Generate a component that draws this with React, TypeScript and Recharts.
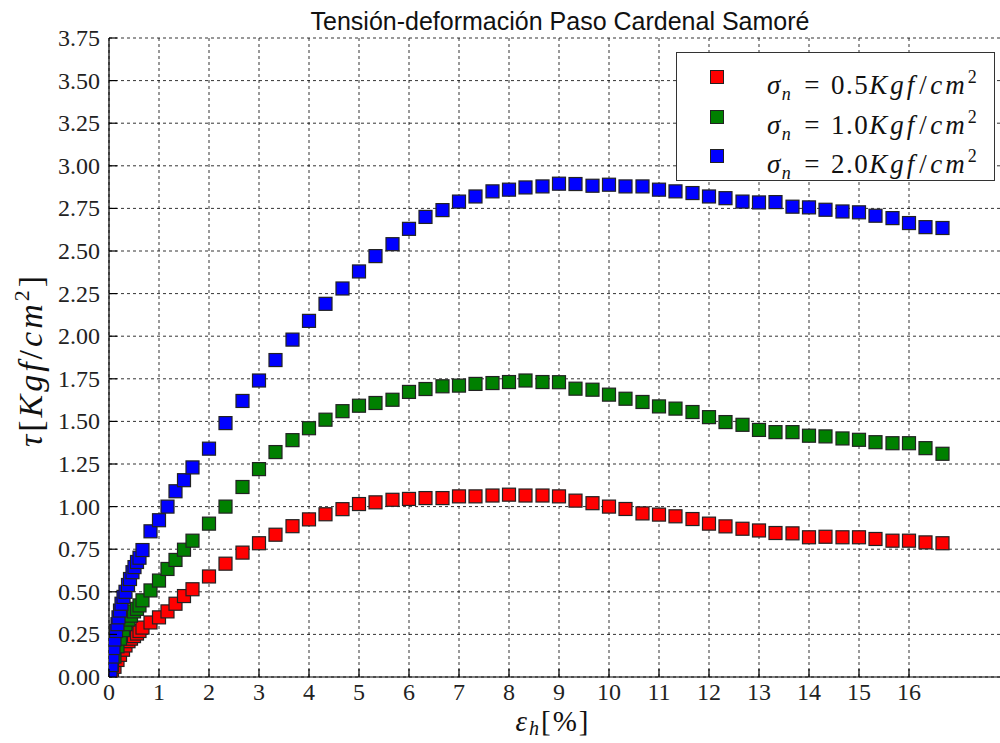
import { ScatterChart, Scatter, XAxis, YAxis, CartesianGrid, Legend } from "recharts";

// tick values
const xTicks = [0, 1, 2, 3, 4, 5, 6, 7, 8, 9, 10, 11, 12, 13, 14, 15, 16];
const yTicks = [0, 0.25, 0.5, 0.75, 1, 1.25, 1.5, 1.75, 2, 2.25, 2.5, 2.75, 3, 3.25, 3.5, 3.75];

// late part of the test: same strain steps for all three series
const strainTail = [
  5.0, 5.33, 5.67, 6.0, 6.33, 6.67, 7.0, 7.33, 7.67, 8.0, 8.33, 8.67, 9.0, 9.33, 9.67, 10.0,
  10.33, 10.67, 11.0, 11.33, 11.67, 12.0, 12.33, 12.67, 13.0, 13.33, 13.67, 14.0, 14.33,
  14.67, 15.0, 15.33, 15.67, 16.0, 16.33, 16.67,
];

// sigma_n = 0.5
const strain05 = [
  0.06, 0.11, 0.17, 0.22, 0.28, 0.33, 0.39, 0.44, 0.5, 0.56, 0.61, 0.67, 0.83, 1.0, 1.17, 1.33,
  1.5, 1.67, 2.0, 2.33, 2.67, 3.0, 3.33, 3.67, 4.0, 4.33, 4.67, ...strainTail,
];
const stress05 = [
  0.03, 0.06, 0.1, 0.13, 0.16, 0.185, 0.21, 0.225, 0.24, 0.255, 0.27, 0.29, 0.32, 0.35, 0.385,
  0.43, 0.475, 0.515, 0.59, 0.665, 0.73, 0.785, 0.835, 0.885, 0.925, 0.955, 0.985,
  1.015, 1.025, 1.04, 1.045, 1.05, 1.05, 1.06, 1.06, 1.065, 1.07, 1.065, 1.065, 1.06, 1.035,
  1.02, 1.0, 0.986, 0.96, 0.953, 0.943, 0.927, 0.9, 0.884, 0.87, 0.86, 0.845, 0.843, 0.82,
  0.823, 0.82, 0.82, 0.81, 0.8, 0.8, 0.79, 0.785,
];

// sigma_n = 1.0
const strain10 = strain05;
const stress10 = [
  0.07, 0.12, 0.18, 0.225, 0.275, 0.31, 0.337, 0.36, 0.385, 0.4, 0.42, 0.45, 0.508, 0.566,
  0.634, 0.687, 0.747, 0.8, 0.9, 1.0, 1.115, 1.22, 1.32, 1.39, 1.46, 1.51, 1.56,
  1.592, 1.608, 1.627, 1.673, 1.69, 1.706, 1.71, 1.72, 1.725, 1.731, 1.74, 1.731, 1.73, 1.692,
  1.686, 1.657, 1.633, 1.614, 1.588, 1.575, 1.555, 1.525, 1.496, 1.48, 1.45, 1.437, 1.437,
  1.416, 1.412, 1.4, 1.392, 1.378, 1.372, 1.372, 1.343, 1.31,
];

// sigma_n = 2.0
const strain20 = [
  0.03, 0.05, 0.07, 0.09, 0.11, 0.14, 0.17, 0.19, 0.22, 0.25, 0.29, 0.33, 0.38, 0.42, 0.47,
  0.51, 0.56, 0.61, 0.67, 0.83, 1.0, 1.17, 1.33, 1.5, 1.67, 2.0, 2.33, 2.67, 3.0, 3.33, 3.67,
  4.0, 4.33, 4.67, ...strainTail,
];
const stress20 = [
  0.03, 0.07, 0.12, 0.17, 0.22, 0.27, 0.31, 0.35, 0.39, 0.43, 0.47, 0.5, 0.54, 0.575, 0.615,
  0.645, 0.675, 0.7, 0.745, 0.855, 0.92, 1.0, 1.09, 1.155, 1.23, 1.34, 1.49, 1.62, 1.74, 1.86,
  1.98, 2.09, 2.19, 2.28,
  2.38, 2.47, 2.54, 2.63, 2.7, 2.74, 2.79, 2.82, 2.85, 2.86, 2.873, 2.879, 2.895, 2.893, 2.883,
  2.889, 2.879, 2.879, 2.86, 2.85, 2.84, 2.82, 2.81, 2.79, 2.785, 2.787, 2.76, 2.756, 2.742,
  2.732, 2.727, 2.707, 2.693, 2.664, 2.64, 2.635,
];

const toPoints = (xs: number[], ys: number[]) => xs.map((x, i) => ({ x, y: ys[i] }));

const RED = "#ff0000";
const GREEN = "#008000";
const BLUE = "#0000ff";
const SERIF = "'Liberation Serif', 'DejaVu Serif', serif";

const square = (color: string) => (props: any) => (
  <rect
    x={props.cx - 6.5}
    y={props.cy - 6.5}
    width={13}
    height={13}
    fill={color}
    stroke="#222"
    strokeWidth={1.2}
  />
);

const BottomTick = (props: any) => {
  const { x, y, payload } = props;
  return (
    <g>
      <line x1={x} x2={x} y1={y} y2={y - 8} stroke="#000" strokeWidth={1.2} />
      <text x={x} y={y + 23} textAnchor="middle" fontFamily={SERIF} fontSize={24} fill="#222">
        {payload.value}
      </text>
    </g>
  );
};

const TopTick = (props: any) => {
  const { x, y } = props;
  return <line x1={x} x2={x} y1={y} y2={y + 8} stroke="#000" strokeWidth={1.2} />;
};

const LeftTick = (props: any) => {
  const { x, y, payload } = props;
  return (
    <g>
      <line x1={x} x2={x + 8} y1={y} y2={y} stroke="#000" strokeWidth={1.2} />
      <text x={x - 9} y={y + 8} textAnchor="end" fontFamily={SERIF} fontSize={24} fill="#222">
        {Number(payload.value).toFixed(2)}
      </text>
    </g>
  );
};

const legendRows = [
  { color: RED, value: "0.5" },
  { color: GREEN, value: "1.0" },
  { color: BLUE, value: "2.0" },
];

const LegendBox = () => (
  <div
    style={{
      position: "relative",
      width: 319,
      height: 129,
      boxSizing: "border-box",
      border: "1.5px solid #333",
      background: "#fff",
      fontFamily: SERIF,
      fontSize: 27,
      color: "#111",
    }}
  >
    {legendRows.map((r, i) => (
      <div key={i} style={{ position: "absolute", left: 0, top: 24 + i * 39.5 - 17, height: 34, width: 319 }}>
        <div
          style={{
            position: "absolute",
            left: 33,
            top: 10,
            width: 12,
            height: 12,
            background: r.color,
            border: "1.2px solid #222",
          }}
        />
        <div
          style={{
            position: "absolute",
            left: 90,
            top: 0,
            whiteSpace: "nowrap",
            lineHeight: "34px",
            letterSpacing: 1.5,
          }}
        >
          <i>σ</i>
          <sub style={{ fontSize: 18, fontStyle: "italic", verticalAlign: -6 }}>n</sub>
          <span style={{ margin: "0 10px 0 12px" }}>=</span>
          {r.value}
          <i style={{ letterSpacing: 3 }}>Kgf</i>
          <span style={{ margin: "0 2px" }}>/</span>
          <i style={{ letterSpacing: 3 }}>cm</i>
          <sup style={{ fontSize: 18, verticalAlign: 11 }}>2</sup>
        </div>
      </div>
    ))}
  </div>
);

export default function App() {
  return (
    <div
      style={{
        position: "absolute",
        left: 0,
        top: 0,
        width: 1000,
        height: 743,
        overflow: "hidden",
        background: "#fff",
      }}
    >
      <ScatterChart width={1010} height={743} margin={{ top: 38, right: 7, bottom: 36, left: 0 }}>
        <CartesianGrid stroke="#000" strokeOpacity={0.8} strokeDasharray="3 3" />
        <XAxis
          type="number"
          dataKey="x"
          domain={[0, 17.88]}
          ticks={xTicks}
          interval={0}
          allowDataOverflow
          height={30}
          tickSize={0}
          tickMargin={0}
          tickLine={false}
          tick={<BottomTick />}
          axisLine={{ stroke: "#000", strokeWidth: 1.2 }}
        />
        <XAxis
          xAxisId="top"
          orientation="top"
          type="number"
          dataKey="x"
          domain={[0, 17.88]}
          ticks={xTicks}
          interval={0}
          allowDataOverflow
          height={0}
          tickSize={0}
          tickMargin={0}
          tickLine={false}
          tick={<TopTick />}
          axisLine={{ stroke: "#000", strokeWidth: 1.2 }}
        />
        <YAxis
          type="number"
          dataKey="y"
          domain={[0, 3.75]}
          ticks={yTicks}
          interval={0}
          allowDataOverflow
          width={109}
          tickSize={0}
          tickMargin={0}
          tickLine={false}
          tick={<LeftTick />}
          axisLine={{ stroke: "#000", strokeWidth: 1.2 }}
        />
        <Scatter data={toPoints(strain05, stress05)} fill={RED} shape={square(RED)} isAnimationActive={false} />
        <Scatter data={toPoints(strain10, stress10)} fill={GREEN} shape={square(GREEN)} isAnimationActive={false} />
        <Scatter data={toPoints(strain20, stress20)} fill={BLUE} shape={square(BLUE)} isAnimationActive={false} />
        <Legend
          layout="horizontal"
          verticalAlign="middle"
          align="center"
          content={() => <LegendBox />}
          wrapperStyle={{ left: 676, top: 52, width: 319, height: 129 }}
        />
      </ScatterChart>
      <svg
        width={1000}
        height={743}
        style={{ position: "absolute", left: 0, top: 0, pointerEvents: "none" }}
      >
        <text
          x={560}
          y={30}
          textAnchor="middle"
          fontFamily="'Liberation Sans', Arial, sans-serif"
          fontSize={25}
          fill="#111"
        >
          Tensión-deformación Paso Cardenal Samoré
        </text>
        <text
          x={42}
          y={360}
          transform="rotate(-90 42 360)"
          textAnchor="middle"
          fontFamily={SERIF}
          fontSize={34}
          letterSpacing={3}
          fill="#111"
        >
          <tspan fontStyle="italic">τ</tspan>
          <tspan>[</tspan>
          <tspan fontStyle="italic">Kgf</tspan>
          <tspan>/</tspan>
          <tspan fontStyle="italic">cm</tspan>
          <tspan fontSize={22} dy={-13}>2</tspan>
          <tspan dy={13}>]</tspan>
        </text>
        <text
          x={553}
          y={731}
          textAnchor="middle"
          fontFamily={SERIF}
          fontSize={29}
          letterSpacing={2}
          fill="#111"
        >
          <tspan fontStyle="italic">ε</tspan>
          <tspan fontStyle="italic" fontSize={20} dy={4}>h</tspan>
          <tspan dy={-4}>[%]</tspan>
        </text>
      </svg>
    </div>
  );
}
